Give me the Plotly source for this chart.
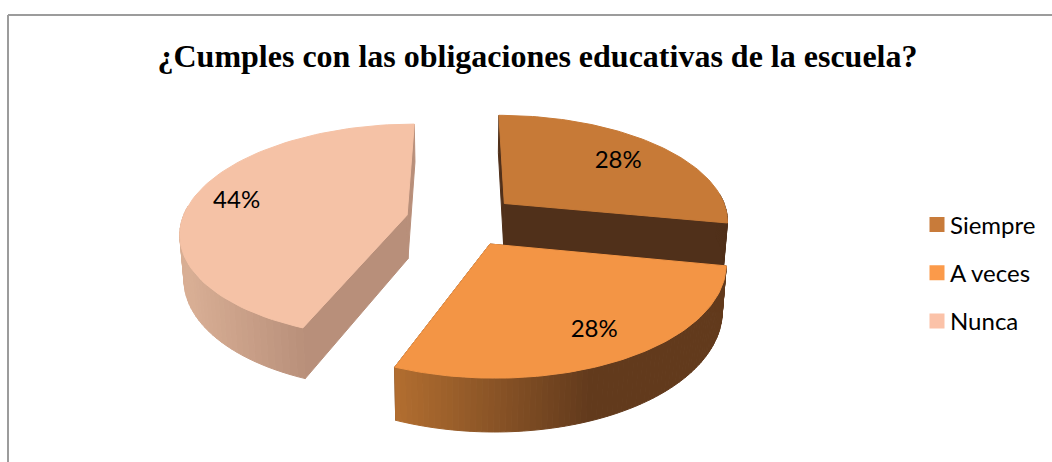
import math
import plotly.graph_objects as go

title = "¿Cumples con las obligaciones educativas de la escuela?"
categories = ["Siempre", "A veces", "Nunca"]
values = [28, 28, 44]
top_colors = ["#C77A37", "#F39545", "#F5C2A6"]
legend_colors = ["#C87B3A", "#FB9A4A", "#FBC2A8"]
side_colors = ["#50301A", "#623A1C", "#B88F7A"]
wall_light = ["#50301A", "#B26E30", "#D8AE94"]

# projection of the tilted, exploded pie
X0, Y0, R, H, K, DEPTH, BOTTOM_SHRINK, EXPLODE = 462, 220, 225, 106, 0.15, 44, 0.985, 0.25
LABEL_R = [0.75, 0.76, 0.8]
LABEL_SHIFT = [(-2, 4), (6, 3), (0, 2)]


def proj(xw, yw, low=False):
    s = 1 / (1 + K * yw)
    sx = s * (BOTTOM_SHRINK if low else 1)
    dz = DEPTH if low else 0
    return X0 + R * xw * sx, Y0 - (H * yw * s) + dz * s


def hex_mix(a, b, t):
    t = max(0, min(1, t))
    ca = [int(a[i:i + 2], 16) for i in (1, 3, 5)]
    cb = [int(b[i:i + 2], 16) for i in (1, 3, 5)]
    return "#%02X%02X%02X" % tuple(round(p + (q - p) * t) for p, q in zip(ca, cb))


fig = go.Figure()


def poly(pts, color):
    fig.add_trace(go.Scatter(
        x=[p[0] for p in pts] + [pts[0][0]], y=[p[1] for p in pts] + [pts[0][1]],
        mode="lines", fill="toself", fillcolor=color, line=dict(color=color, width=1),
        hoverinfo="skip", showlegend=False))


total = sum(values)
spans = []
acc = 0
for v in values:
    spans.append((acc / total * 2 * math.pi, (acc + v) / total * 2 * math.pi))
    acc += v

labels = []
for idx in (0, 2, 1):
    a0, a1 = spans[idx]
    mid = (a0 + a1) / 2
    ox, oy = EXPLODE * math.sin(mid), EXPLODE * math.cos(mid)
    n = 80
    angs = [a0 + (a1 - a0) * i / n for i in range(n + 1)]
    rim = [(ox + math.sin(a), oy + math.cos(a)) for a in angs]
    apex = (ox, oy)
    side = side_colors[idx]
    # cut faces
    for end in (rim[0], rim[-1]):
        poly([proj(*apex), proj(*end), proj(*end, True), proj(*apex, True)], side)
    # outer wall, as shaded strips
    xs = [proj(*p)[0] for p in rim]
    lo, hi = {0: (500, 730), 1: (395, 590), 2: (190, 305)}[idx]
    for i in range(n):
        if math.cos((angs[i] + angs[i + 1]) / 2) > 0.1:
            continue
        t = ((xs[i] + xs[i + 1]) / 2 - lo) / (hi - lo)
        poly([proj(*rim[i]), proj(*rim[i + 1]), proj(*rim[i + 1], True), proj(*rim[i], True)],
             hex_mix(wall_light[idx], side, t))
    # top surface
    poly([proj(*apex)] + [proj(*p) for p in rim], top_colors[idx])
    r = LABEL_R[idx]
    px, py = proj(ox + r * math.sin(mid), oy + r * math.cos(mid))
    labels.append((idx, (px + LABEL_SHIFT[idx][0], py + LABEL_SHIFT[idx][1])))

labels.sort()
fig.add_trace(go.Scatter(
    x=[p[1][0] for p in labels], y=[p[1][1] for p in labels],
    text=["%d%%" % values[p[0]] for p in labels], mode="text",
    textfont=dict(family="Lato", size=24, color="#000000"),
    hoverinfo="skip", showlegend=False))

for i, (cat, col) in enumerate(zip(categories, legend_colors)):
    fig.add_trace(go.Scatter(
        x=[None], y=[None], mode="markers", name=cat, legendgroup=cat,
        marker=dict(symbol="square", size=15, color=col)))

fig.update_layout(
    width=1052, height=462,
    margin=dict(l=0, r=0, t=0, b=0),
    paper_bgcolor="white", plot_bgcolor="white",
    xaxis=dict(range=[0, 1052], visible=False, fixedrange=True),
    yaxis=dict(range=[462, 0], visible=False, fixedrange=True),
    title=dict(text="<b>%s</b>" % title, x=537.5 / 1052, xanchor="center",
               y=1 - 56 / 462, yanchor="middle",
               font=dict(family="Liberation Serif", size=32, color="#000000")),
    legend=dict(x=910 / 1052, xanchor="left", y=1 - 273 / 462, yanchor="middle",
                font=dict(family="Lato", size=24, color="#000000"),
                tracegroupgap=14, itemsizing="trace", bgcolor="rgba(0,0,0,0)"),
    shapes=[
        dict(type="line", xref="paper", yref="paper", x0=8 / 1052, x1=1, y0=1 - 15 / 462, y1=1 - 15 / 462,
             line=dict(color="#9C9C9C", width=2)),
        dict(type="line", xref="paper", yref="paper", x0=8 / 1052, x1=8 / 1052, y0=0, y1=1 - 15 / 462,
             line=dict(color="#9C9C9C", width=2)),
    ],
)
post = ("document.documentElement.style.overflow='hidden';document.body.style.margin='0';"
        "document.querySelectorAll('.legendsymbols').forEach(function(g){g.setAttribute('transform','translate(7,0)');});")
fig.write_html("out.html", post_script=post, config={"displayModeBar": False})
